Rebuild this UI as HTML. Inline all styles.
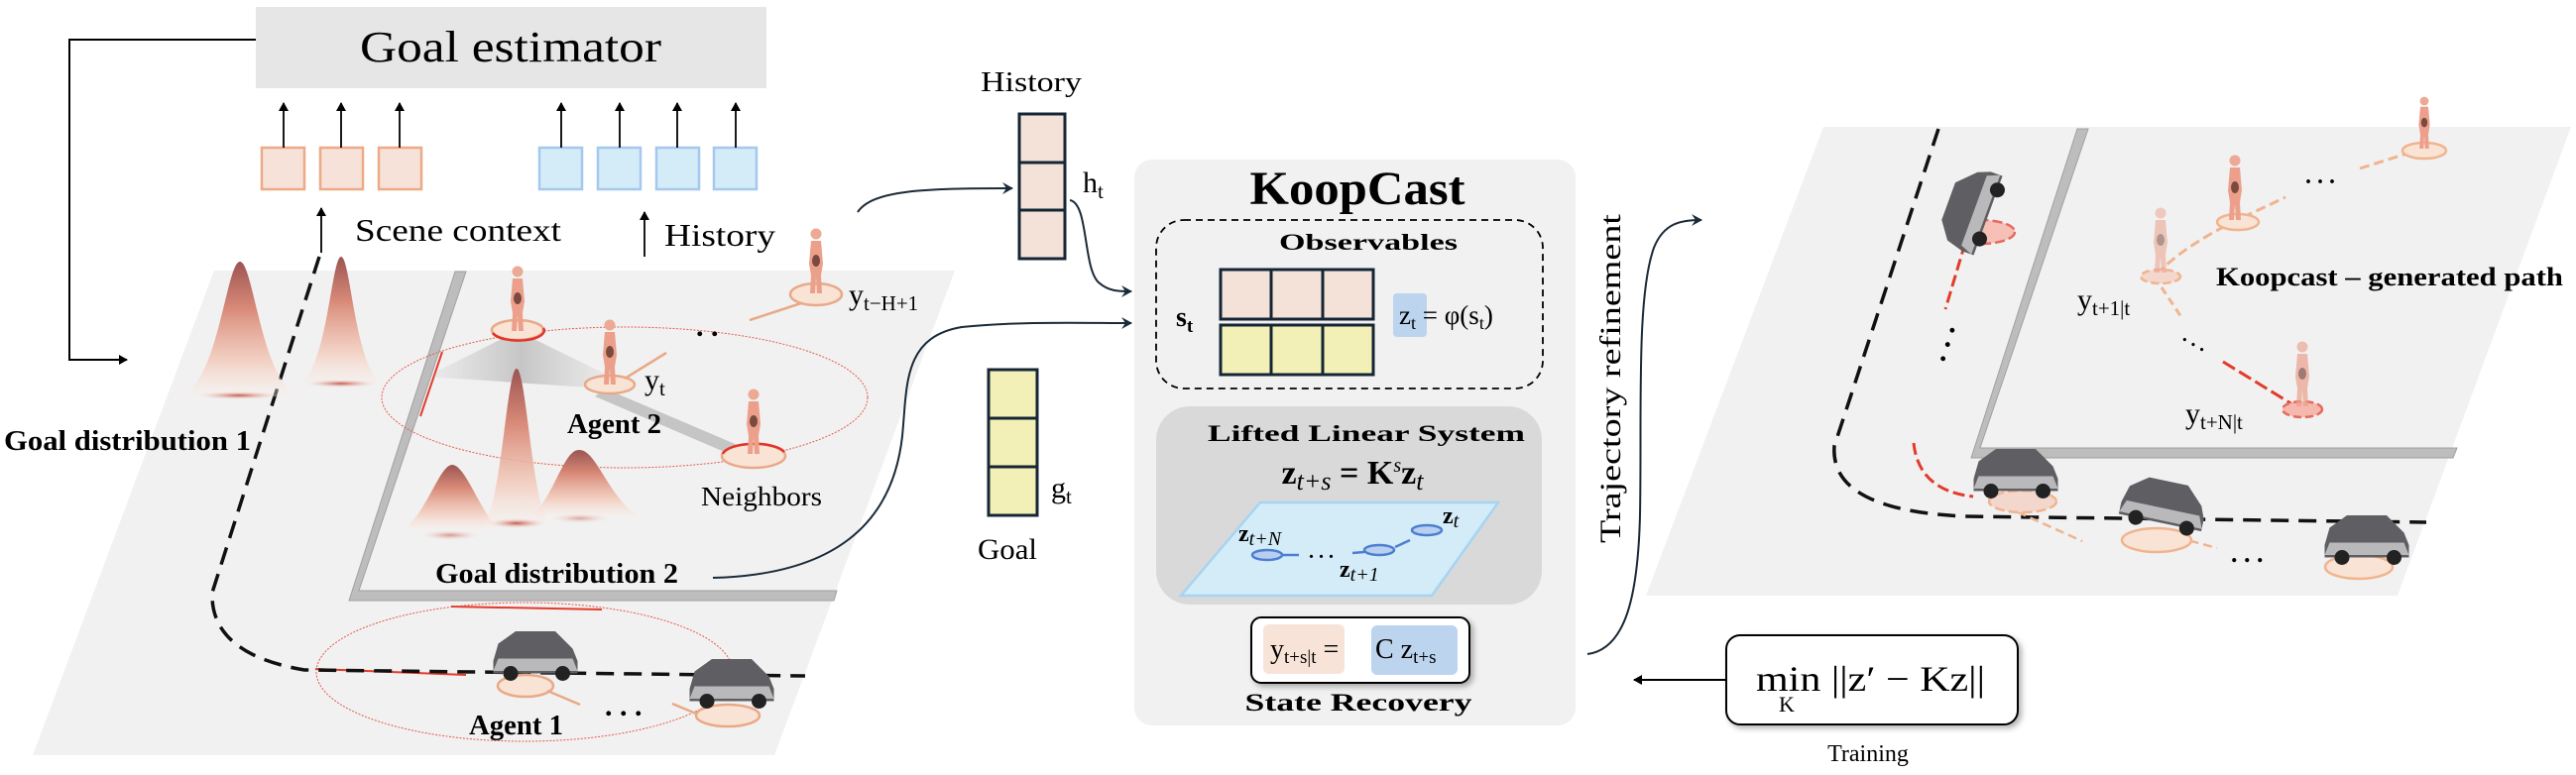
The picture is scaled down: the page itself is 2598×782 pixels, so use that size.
<!DOCTYPE html>
<html><head><meta charset="utf-8"><style>
html,body{margin:0;padding:0;background:#fff;width:2598px;height:782px;overflow:hidden}
svg{display:block}
text{font-family:"Liberation Serif",serif}
</style></head><body>
<svg width="2598" height="782" viewBox="0 0 2598 782" xmlns="http://www.w3.org/2000/svg">
<defs>
<linearGradient id="g" x1="0" y1="0" x2="0" y2="1">
<stop offset="0" stop-color="#9c5552"/><stop offset="0.35" stop-color="#d98a78"/><stop offset="0.75" stop-color="#f3cbbb" stop-opacity="0.8"/><stop offset="1" stop-color="#fbeee8" stop-opacity="0.3"/></linearGradient>
<radialGradient id="rg"><stop offset="0" stop-color="#c4574c"/><stop offset="1" stop-color="#f5d8cf" stop-opacity="0"/></radialGradient>
<linearGradient id="sh" x1="0" y1="0" x2="1" y2="0"><stop offset="0" stop-color="#aaa" stop-opacity="0.1"/><stop offset="0.5" stop-color="#999" stop-opacity="0.7"/><stop offset="1" stop-color="#aaa" stop-opacity="0.1"/></linearGradient>
<marker id="ar" markerWidth="12" markerHeight="12" refX="10" refY="6" orient="auto" markerUnits="userSpaceOnUse"><path d="M0,0 L11,6 L0,12 L4,6 Z" fill="#1a2a38"/></marker>
<marker id="ak" markerWidth="10" markerHeight="10" refX="8" refY="5" orient="auto" markerUnits="userSpaceOnUse"><path d="M0,0 L9,5 L0,10 Z" fill="#000"/></marker>
<g id="hum"><circle cx="0" cy="-60" r="5.5" fill="#eba996"/><path d="M-5,-53 L5,-53 L7,-30 L5,-18 L6,0 L1,0 L0,-16 L-1,0 L-6,0 L-5,-18 L-7,-30 Z" fill="#eca08c"/><ellipse cx="0" cy="-33" rx="4" ry="6" fill="#7a4a40"/></g>
<g id="car0"><path d="M-34,-4 L-30,-18 L-16,-28 L16,-28 L30,-14 L34,-4 L34,6 L-34,6 Z" fill="#5f5f63"/><path d="M-30,-6 L30,-6 L34,4 L-34,4 Z" fill="#b9b9bc"/><circle cx="-20" cy="6" r="6" fill="#222"/><circle cx="22" cy="6" r="6" fill="#222"/></g>
<g id="car"><use href="#car0" transform="scale(1.25)"/></g>
</defs>

<!-- LEFT SCENE -->
<polygon points="216,273 963,273 781,762 33,762" fill="#f1f1f1"/>
<polygon points="459,274 470,274 362,596 844,596 841,606 352,606" fill="#bdbdbd" stroke="#a0a0a0" stroke-width="1"/>
<line x1="446" y1="355" x2="424" y2="420" stroke="#e23b2b" stroke-width="2"/>
<line x1="455" y1="612" x2="607" y2="615" stroke="#e23b2b" stroke-width="2"/>
<line x1="318" y1="675" x2="470" y2="681" stroke="#e23b2b" stroke-width="2"/>
<path d="M322,259 L214,598 Q212,660 307,676 L812,682" fill="none" stroke="#111" stroke-width="3.5" stroke-dasharray="18,10"/>
<ellipse cx="630" cy="401" rx="245" ry="71" fill="none" stroke="#e65a4a" stroke-width="1" stroke-dasharray="2,1.5"/>
<ellipse cx="529" cy="678" rx="210" ry="70" fill="none" stroke="#e65a4a" stroke-width="1" stroke-dasharray="2,1.5"/>
<polygon points="522,334 620,382 610,392 430,380" fill="url(#sh)" opacity="0.7"/>
<polygon points="610,392 760,456 740,460 600,400" fill="#999" opacity="0.5"/>
<!-- gaussians -->
<path d="M180,400 C220,392 228,264 242,264 C256,264 264,392 304,400 Z" fill="url(#g)"/>
<ellipse cx="241" cy="399" rx="42" ry="4" fill="url(#rg)"/>
<path d="M300,388 C330,378 334,259 344,259 C354,259 358,378 388,388 Z" fill="url(#g)"/>
<ellipse cx="344" cy="387" rx="36" ry="4" fill="url(#rg)"/>
<path d="M405,535 C430,520 443,469 456,469 C470,469 485,520 505,535 Z" fill="url(#g)"/>
<path d="M535,522 C560,500 568,454 584,454 C602,454 612,500 645,522 Z" fill="url(#g)"/>
<path d="M486,530 C505,520 511,372 521,372 C531,372 537,520 556,530 Z" fill="url(#g)"/>
<ellipse cx="521" cy="528" rx="30" ry="5" fill="url(#rg)"/>
<ellipse cx="454" cy="540" rx="30" ry="5" fill="url(#rg)" opacity="0.6"/>
<ellipse cx="585" cy="523" rx="30" ry="5" fill="url(#rg)" opacity="0.5"/>
<!-- agents left -->
<ellipse cx="522" cy="333" rx="26" ry="10" fill="#f9e3d5" stroke="#e8a987" stroke-width="2.5"/>
<path d="M497,336 A26,10 0 0 0 548,331" fill="none" stroke="#e0352a" stroke-width="2.5"/>
<use href="#hum" x="522" y="334"/>
<ellipse cx="615" cy="388" rx="25" ry="9" fill="#f9e3d5" stroke="#e8a987" stroke-width="2.5"/>
<line x1="630" y1="382" x2="672" y2="356" stroke="#e8a987" stroke-width="2.5"/>
<use href="#hum" x="615" y="388"/>
<ellipse cx="823" cy="297" rx="26" ry="11" fill="#f9e3d5" stroke="#e8a987" stroke-width="2.5"/>
<line x1="808" y1="306" x2="756" y2="323" stroke="#e8a987" stroke-width="2.5"/>
<use href="#hum" x="823" y="296"/>
<ellipse cx="760" cy="460" rx="32" ry="12" fill="#f9e3d5" stroke="#e8a987" stroke-width="2.5"/>
<path d="M729,458 A32,12 0 0 1 791,456" fill="none" stroke="#e0352a" stroke-width="2.5"/>
<use href="#hum" x="760" y="458"/>
<text x="702" y="339" font-size="30" font-weight="bold">. .</text>
<ellipse cx="530" cy="692" rx="28" ry="11" fill="#f9e3d5" stroke="#e8a987" stroke-width="2.5"/>
<line x1="552" y1="697" x2="585" y2="711" stroke="#e8a987" stroke-width="2.5"/>
<use href="#car" x="540" y="672"/>
<ellipse cx="734" cy="722" rx="32" ry="11" fill="#f9e3d5" stroke="#e8a987" stroke-width="2.5"/>
<line x1="678" y1="710" x2="702" y2="720" stroke="#e8a987" stroke-width="2.5"/>
<use href="#car" x="738" y="700"/>
<text x="610" y="722" font-size="30" font-weight="bold">. . .</text>

<!-- labels left -->
<text x="4" y="454" font-size="28" font-weight="bold" textLength="249" lengthAdjust="spacingAndGlyphs">Goal  distribution 1</text>
<text x="439" y="588" font-size="28" font-weight="bold" textLength="245" lengthAdjust="spacingAndGlyphs">Goal distribution 2</text>
<text x="572" y="437" font-size="28" font-weight="bold" textLength="95" lengthAdjust="spacingAndGlyphs">Agent 2</text>
<text x="473" y="741" font-size="28" font-weight="bold" textLength="95" lengthAdjust="spacingAndGlyphs">Agent 1</text>
<text x="707" y="510" font-size="27" textLength="122" lengthAdjust="spacingAndGlyphs">Neighbors</text>
<text x="650" y="393" font-size="30">y<tspan font-size="21" dy="6">t</tspan></text>
<text x="856" y="307" font-size="30">y<tspan font-size="21" dy="6">t−H+1</tspan></text>

<!-- goal estimator -->
<rect x="258" y="7" width="515" height="82" fill="#e6e6e6"/>
<text x="515" y="62" font-size="44" text-anchor="middle" textLength="304" lengthAdjust="spacingAndGlyphs">Goal estimator</text>
<path d="M258,40 L70,40 L70,363 L128,363" fill="none" stroke="#000" stroke-width="2" marker-end="url(#ak)"/>
<g fill="#f6e2d8" stroke="#ecaa86" stroke-width="2.5">
<rect x="264" y="149" width="43" height="42"/><rect x="323" y="149" width="43" height="42"/><rect x="382" y="149" width="43" height="42"/></g>
<g fill="#d3ecf8" stroke="#a6c8ee" stroke-width="2.5">
<rect x="544" y="149" width="43" height="42"/><rect x="603" y="149" width="43" height="42"/><rect x="662" y="149" width="43" height="42"/><rect x="720" y="149" width="43" height="42"/></g>
<g stroke="#000" stroke-width="1.8" marker-end="url(#ak)">
<line x1="286" y1="149" x2="286" y2="104"/><line x1="344" y1="149" x2="344" y2="104"/><line x1="403" y1="149" x2="403" y2="104"/>
<line x1="566" y1="149" x2="566" y2="104"/><line x1="625" y1="149" x2="625" y2="104"/><line x1="683" y1="149" x2="683" y2="104"/><line x1="742" y1="149" x2="742" y2="104"/>
<line x1="324" y1="255" x2="324" y2="210"/><line x1="650" y1="259" x2="650" y2="214"/></g>
<text x="358" y="243" font-size="32" textLength="208" lengthAdjust="spacingAndGlyphs">Scene context</text>
<text x="670" y="248" font-size="32" textLength="112" lengthAdjust="spacingAndGlyphs">History</text>

<!-- history / goal columns -->
<text x="989" y="92" font-size="28" textLength="102" lengthAdjust="spacingAndGlyphs">History</text>
<g fill="#f4e2d8" stroke="#152535" stroke-width="3"><rect x="1028" y="115" width="46" height="49"/><rect x="1028" y="164" width="46" height="48"/><rect x="1028" y="212" width="46" height="49"/></g>
<text x="1092" y="194" font-size="30">h<tspan font-size="21" dy="6">t</tspan></text>
<g fill="#f2f0b6" stroke="#152535" stroke-width="3"><rect x="997" y="373" width="49" height="49"/><rect x="997" y="422" width="49" height="49"/><rect x="997" y="471" width="49" height="49"/></g>
<text x="1060" y="502" font-size="30">g<tspan font-size="21" dy="6">t</tspan></text>
<text x="986" y="564" font-size="30" textLength="60" lengthAdjust="spacingAndGlyphs">Goal</text>
<path d="M865,214 C880,192 930,190 1021,190" fill="none" stroke="#1a2a38" stroke-width="2" marker-end="url(#ar)"/>
<path d="M1079,202 C1098,205 1092,270 1108,285 C1118,294 1128,294 1141,294" fill="none" stroke="#1a2a38" stroke-width="2" marker-end="url(#ar)"/>
<path d="M719,583 C840,580 900,530 910,440 C915,390 910,340 970,330 C1030,324 1090,326 1141,326" fill="none" stroke="#1a2a38" stroke-width="2" marker-end="url(#ar)"/>

<!-- KOOPCAST PANEL -->
<rect x="1144" y="161" width="445" height="571" rx="18" fill="#f1f1f1"/>
<text x="1369" y="206" font-size="48" font-weight="bold" text-anchor="middle" textLength="217" lengthAdjust="spacingAndGlyphs">KoopCast</text>
<rect x="1166" y="222" width="390" height="170" rx="28" fill="none" stroke="#000" stroke-width="1.8" stroke-dasharray="7,5"/>
<text x="1380" y="252" font-size="23" font-weight="bold" text-anchor="middle" textLength="180" lengthAdjust="spacingAndGlyphs">Observables</text>
<text x="1186" y="329" font-size="28" font-weight="bold">s<tspan font-size="19" dy="6">t</tspan></text>
<g stroke="#152535" stroke-width="3">
<g fill="#f4e2d8"><rect x="1231" y="272" width="51" height="50"/><rect x="1282" y="272" width="52" height="50"/><rect x="1334" y="272" width="51" height="50"/></g>
<g fill="#f2f0b6"><rect x="1231" y="328" width="51" height="50"/><rect x="1282" y="328" width="52" height="50"/><rect x="1334" y="328" width="51" height="50"/></g></g>
<rect x="1405" y="296" width="34" height="44" rx="4" fill="#bcd4ee"/>
<text x="1411" y="327" font-size="27">z<tspan font-size="18" dy="5">t</tspan><tspan dy="-5"> = φ(s</tspan><tspan font-size="18" dy="5">t</tspan><tspan dy="-5">)</tspan></text>
<rect x="1166" y="410" width="389" height="200" rx="34" fill="#d9d9d9"/>
<text x="1378" y="445" font-size="23" font-weight="bold" text-anchor="middle" textLength="320" lengthAdjust="spacingAndGlyphs">Lifted  Linear  System</text>
<text x="1364" y="488" font-size="34" font-weight="bold" text-anchor="middle">z<tspan font-style="italic" font-weight="normal" font-size="26" dy="6">t+s</tspan><tspan dy="-6"> = K</tspan><tspan font-style="italic" font-weight="normal" font-size="20" dy="-12">s</tspan><tspan dy="12">z</tspan><tspan font-style="italic" font-weight="normal" font-size="26" dy="6">t</tspan></text>
<polygon points="1271,507 1511,507 1444,601 1191,601" fill="#d3ecf8" stroke="#a6d4f2" stroke-width="2.5"/>
<g fill="#b9cff0" stroke="#4d7fd0" stroke-width="2.5"><ellipse cx="1278" cy="560" rx="15" ry="5"/><ellipse cx="1391" cy="555" rx="15" ry="5"/><ellipse cx="1439" cy="535" rx="15" ry="5"/></g>
<path d="M1294,560 L1310,560 M1364,558 L1376,557 M1407,552 L1422,545" stroke="#4d7fd0" stroke-width="2.5"/>
<text x="1320" y="563" font-size="20" font-weight="bold">. . .</text>
<text x="1249" y="546" font-size="24" font-weight="bold">z<tspan font-style="italic" font-weight="normal" font-size="20" dy="4">t+N</tspan></text>
<text x="1351" y="582" font-size="24" font-weight="bold">z<tspan font-style="italic" font-weight="normal" font-size="20" dy="4">t+1</tspan></text>
<text x="1455" y="528" font-size="24" font-weight="bold">z<tspan font-style="italic" font-weight="normal" font-size="20" dy="4">t</tspan></text>
<rect x="1262" y="623" width="220" height="66" rx="10" fill="#fff" stroke="#000" stroke-width="2" style="filter:drop-shadow(3px 3px 3px rgba(0,0,0,0.3))"/>
<rect x="1274" y="630" width="82" height="50" rx="6" fill="#f7e3d8"/>
<rect x="1383" y="631" width="87" height="50" rx="6" fill="#bcd4ee"/>
<text x="1281" y="664" font-size="28">y<tspan font-size="19" dy="5">t+s|t</tspan><tspan dy="-5"> = </tspan></text>
<text x="1387" y="664" font-size="28">C z<tspan font-size="19" dy="5">t+s</tspan></text>
<text x="1370" y="717" font-size="25" font-weight="bold" text-anchor="middle" textLength="229" lengthAdjust="spacingAndGlyphs">State  Recovery</text>

<!-- refinement -->
<path d="M1601,660 C1640,655 1652,600 1654,520 C1656,420 1650,300 1668,250 C1678,225 1695,222 1716,222" fill="none" stroke="#1a2a38" stroke-width="2" marker-end="url(#ar)"/>
<text transform="translate(1634,382) rotate(-90)" font-size="30" text-anchor="middle" textLength="332" lengthAdjust="spacingAndGlyphs">Trajectory refinement</text>

<!-- RIGHT SCENE -->
<polygon points="1839,128 2593,128 2418,601 1660,601" fill="#f1f1f1"/>
<polygon points="2095,130 2106,130 1997,452 2478,452 2474,462 1988,462" fill="#bdbdbd" stroke="#a0a0a0" stroke-width="1"/>
<path d="M1955,130 L1850,450 Q1845,515 1982,521 L2447,527" fill="none" stroke="#111" stroke-width="3.5" stroke-dasharray="18,10"/>
<path d="M1982,245 L1962,312" stroke="#e23b2b" stroke-width="3" stroke-dasharray="12,5"/>
<path d="M1930,447 Q1935,495 1990,501" fill="none" stroke="#e23b2b" stroke-width="3" stroke-dasharray="12,5"/>
<text x="1940" y="372" font-size="30" font-weight="bold" transform="rotate(-72 1946 355)">. . .</text>
<path d="M2022,511 L2100,546 M2195,542 L2236,553" stroke="#f0b48f" stroke-width="2.5" stroke-dasharray="9,5"/>
<path d="M2175,277 Q2200,250 2254,223 L2305,199 M2380,170 L2440,151" fill="none" stroke="#f0b48f" stroke-width="3" stroke-dasharray="10,5"/>
<path d="M2180,290 L2200,320" stroke="#f0b48f" stroke-width="3" stroke-dasharray="8,5"/>
<path d="M2242,365 L2312,408" stroke="#e23b2b" stroke-width="3" stroke-dasharray="14,5"/>
<text x="2325" y="185" font-size="24" font-weight="bold">. . .</text>
<text x="2203" y="347" font-size="20" font-weight="bold" transform="rotate(30 2210 340)">. . .</text>
<text x="2250" y="567" font-size="26" font-weight="bold">. . .</text>
<ellipse cx="1998" cy="234" rx="34" ry="12" fill="#f6c0b6" stroke="#e56b5e" stroke-width="2.5" stroke-dasharray="10,4"/>
<use href="#car" x="1998" y="215" transform="rotate(-70 1998 215)"/>
<ellipse cx="2040" cy="506" rx="34" ry="11" fill="#f3d6cc" stroke="#f0b48f" stroke-width="2.5" stroke-dasharray="10,4"/>
<use href="#car" x="2033" y="488"/>
<ellipse cx="2175" cy="545" rx="35" ry="12" fill="#f9e3d5" stroke="#f0b48f" stroke-width="2.5"/>
<use href="#car" x="2180" y="520" transform="rotate(12 2180 520)"/>
<ellipse cx="2379" cy="572" rx="34" ry="12" fill="#f9e3d5" stroke="#f0b48f" stroke-width="2.5"/>
<use href="#car" x="2387" y="555"/>
<ellipse cx="2445" cy="152" rx="22" ry="8" fill="#f9e3d5" stroke="#f0b48f" stroke-width="2.5"/>
<use href="#hum" x="2445" y="150" transform="translate(2445,150) scale(0.8) translate(-2445,-150)"/>
<ellipse cx="2257" cy="224" rx="21" ry="8" fill="#f9e3d5" stroke="#f0b48f" stroke-width="2.5"/>
<use href="#hum" x="2254" y="222"/>
<ellipse cx="2179" cy="279" rx="20" ry="7" fill="#f3d6cc" stroke="#f0b48f" stroke-width="2.5" stroke-dasharray="8,4"/>
<g opacity="0.55"><use href="#hum" x="2179" y="275"/></g>
<ellipse cx="2322" cy="413" rx="20" ry="8" fill="#f6b8ae" stroke="#e56b5e" stroke-width="2.5" stroke-dasharray="8,4"/>
<g opacity="0.7"><use href="#hum" x="2322" y="410"/></g>
<text x="2235" y="288" font-size="26" font-weight="bold" textLength="350" lengthAdjust="spacingAndGlyphs">Koopcast – generated path</text>
<text x="2095" y="312" font-size="30">y<tspan font-size="21" dy="6">t+1|t</tspan></text>
<text x="2204" y="427" font-size="30">y<tspan font-size="21" dy="6">t+N|t</tspan></text>

<!-- training -->
<rect x="1741" y="641" width="294" height="90" rx="14" fill="#fff" stroke="#000" stroke-width="2" style="filter:drop-shadow(3px 3px 3px rgba(0,0,0,0.3))"/>
<text x="1771" y="697" font-size="36" textLength="231" lengthAdjust="spacingAndGlyphs">min ||z′ − Kz||</text>
<text x="1794" y="718" font-size="22">K</text>
<path d="M1741,686 L1648,686" stroke="#000" stroke-width="2" marker-end="url(#ak)"/>
<text x="1884" y="768" font-size="24" text-anchor="middle">Training</text>
</svg>
</body></html>
